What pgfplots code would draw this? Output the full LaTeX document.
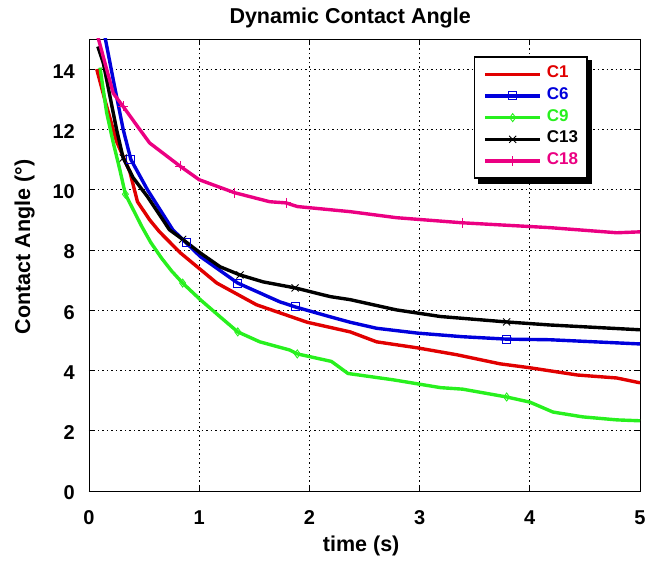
\documentclass[border=0pt]{standalone}
\usepackage{fontspec}
\setmainfont{Liberation Sans}
\usepackage{pgfplots}
\pgfplotsset{compat=1.18}
\usetikzlibrary{backgrounds}
\definecolor{cA}{RGB}{225,0,0}
\definecolor{cB}{RGB}{0,0,220}
\definecolor{cC}{RGB}{40,240,30}
\definecolor{cD}{RGB}{0,0,0}
\definecolor{cE}{RGB}{235,0,130}
\begin{document}
\begin{tikzpicture}
\path[use as bounding box] (0,0) rectangle (648pt,562pt);
\begin{axis}[
  at={(89pt,71pt)}, anchor=south west,
  scale only axis, width=551pt, height=452pt,
  xmin=0, xmax=5, ymin=0, ymax=15,
  xtick={0,1,2,3,4,5}, ytick={0,2,4,6,8,10,12,14},
  tick align=inside, major tick length=5pt,
  axis line style={black, line width=0.8pt},
  tick style={black, line width=0.8pt},
  grid=major,
  major grid style={black, line width=0.8pt, dash pattern=on 1.5pt off 3pt},
  /pgf/number format/assume math mode=true,
  tick label style={font=\fontsize{20}{22}\selectfont\bfseries},
  xticklabel style={anchor=base, yshift=-34pt},
  yticklabel style={anchor=east, inner sep=0pt, xshift=-14pt, yshift=-2pt},
  label style={font=\fontsize{21.5}{24}\selectfont\bfseries},
  title style={font=\fontsize{21.5}{24}\selectfont\bfseries, at={(axis description cs:0.474,1)}, anchor=base, yshift=9pt},
  title={Dynamic Contact Angle},
  xlabel={time (s)}, ylabel={Contact Angle (°)},
  xlabel style={at={(axis description cs:0.494,0)}, anchor=base, yshift=-60pt},
  ylabel style={at={(axis description cs:-0.117,0.540)}, anchor=center},
  legend style={at={(0.9056,0.9624)}, anchor=north east, draw=black, line width=1.8pt,
    fill=white, font=\fontsize{17}{19}\selectfont\bfseries, cells={anchor=west},
    nodes={text height=14.5pt, text depth=7.2pt, inner sep=0pt},
    row sep=0pt, column sep=5pt, inner xsep=9pt, inner ysep=6.5pt, name=leg},
  legend image code/.code={\draw[mark repeat=2,mark phase=2,#1] plot coordinates {(0pt,0pt) (27.5pt,0pt) (55pt,0pt)};},
]
% C1
\addplot[cA, line width=3.4pt, forget plot] coordinates {
(0.07,14.0)(0.15,12.9)(0.25,11.6)(0.37,10.6)(0.44,9.6)(0.55,9.0)(0.64,8.6)(0.83,7.9)(1.16,6.9)(1.52,6.18)(1.98,5.6)(2.37,5.28)(2.61,4.95)(2.98,4.75)(3.34,4.52)(3.73,4.22)(4.0,4.09)(4.43,3.85)(4.79,3.75)(5.0,3.59)};
% C6
\addplot[cB, line width=3.4pt, forget plot] coordinates {
(0.12,15.8)(0.145,15.07)(0.22,13.65)(0.31,12.0)(0.38,11.0)(0.53,10.0)(0.76,8.67)(0.88,8.24)(1.01,7.78)(1.35,6.9)(1.73,6.28)(1.87,6.11)(2.19,5.78)(2.37,5.6)(2.61,5.4)(2.98,5.24)(3.39,5.12)(3.79,5.04)(4.18,5.02)(5.0,4.88)};
\addplot[cB, only marks, mark=square, mark size=4pt, mark options={line width=0.9pt}, forget plot] coordinates {
(0.38,11.0)(0.88,8.24)(1.35,6.9)(1.87,6.11)(3.79,5.04)};
% C9
\addplot[cC, line width=3.4pt, forget plot] coordinates {
(0.10,14.05)(0.16,12.56)(0.22,11.56)(0.28,10.66)(0.33,9.85)(0.48,8.77)(0.56,8.25)(0.66,7.72)(0.75,7.3)(0.85,6.9)(1.01,6.35)(1.19,5.78)(1.35,5.28)(1.55,4.95)(1.82,4.68)(1.89,4.55)(2.2,4.3)(2.35,3.9)(2.76,3.69)(3.19,3.43)(3.39,3.38)(3.79,3.12)(4.0,2.95)(4.21,2.62)(4.48,2.46)(4.79,2.36)(5.0,2.33)};
\addplot[cC, only marks, mark=diamond, mark size=4pt, mark options={line width=0.9pt}, forget plot] coordinates {
(0.33,9.85)(0.85,6.9)(1.35,5.28)(1.89,4.55)(3.79,3.12)};
% C13
\addplot[cD, line width=3.4pt, forget plot] coordinates {
(0.08,14.75)(0.13,14.2)(0.19,13.1)(0.25,12.0)(0.31,11.05)(0.40,10.4)(0.53,9.77)(0.73,8.67)(0.85,8.35)(1.01,7.9)(1.19,7.44)(1.37,7.17)(1.58,6.94)(1.87,6.74)(2.19,6.45)(2.37,6.35)(2.79,6.01)(3.19,5.79)(3.79,5.61)(4.18,5.51)(5.0,5.35)};
\addplot[cD, only marks, mark=x, mark size=5pt, mark options={line width=0.9pt}, forget plot] coordinates {
(0.31,11.05)(0.85,8.35)(1.37,7.17)(1.87,6.74)(3.79,5.61)};
% C18
\addplot[cE, line width=3.4pt, forget plot] coordinates {
(0.06,15.6)(0.08,15.08)(0.16,14.0)(0.22,13.2)(0.31,12.76)(0.44,12.1)(0.55,11.55)(0.83,10.77)(1.0,10.33)(1.32,9.9)(1.64,9.6)(1.79,9.56)(1.89,9.44)(2.37,9.27)(2.79,9.07)(3.39,8.9)(4.18,8.74)(4.79,8.57)(5.0,8.6)};
\addplot[cE, only marks, mark=+, mark size=5pt, mark options={line width=0.9pt}, forget plot] coordinates {
(0.31,12.76)(0.83,10.77)(1.32,9.9)(1.79,9.56)(3.39,8.9)};
% legend
\addlegendimage{cA, line width=3.4pt, mark=none}
\addlegendentry{\textcolor{cA}{C1}}
\addlegendimage{cB, line width=3.4pt, mark=square, mark size=4pt, mark options={line width=0.9pt}}
\addlegendentry{\textcolor{cB}{C6}}
\addlegendimage{cC, line width=3.4pt, mark=diamond, mark size=4pt, mark options={line width=0.9pt}}
\addlegendentry{\textcolor{cC}{C9}}
\addlegendimage{cD, line width=3.4pt, mark=x, mark size=5pt, mark options={line width=0.9pt}}
\addlegendentry{\textcolor{cD}{C13}}
\addlegendimage{cE, line width=3.4pt, mark=+, mark size=5pt, mark options={line width=0.9pt}}
\addlegendentry{\textcolor{cE}{C18}}
\end{axis}
\begin{pgfonlayer}{background}
\fill[black] ([xshift=4.5pt,yshift=-4.5pt]leg.south west) rectangle ([xshift=4.5pt,yshift=-4.5pt]leg.north east);
\end{pgfonlayer}
\end{tikzpicture}
\end{document}
